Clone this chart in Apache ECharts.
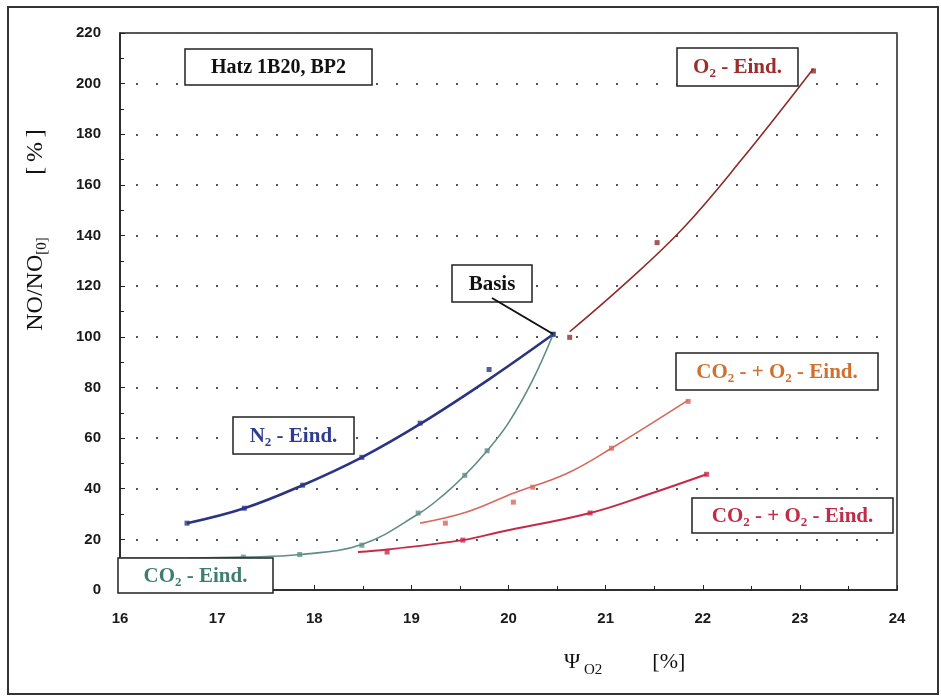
<!DOCTYPE html>
<html><head><meta charset="utf-8">
<script src="https://cdn.jsdelivr.net/npm/echarts@6/dist/echarts.min.js"></script>
<style>html,body{margin:0;padding:0;background:#fff}#c{width:941px;height:696px}</style>
</head><body><div id="c"></div>
<script>
// ---- data ----
const xMin = 16, xMax = 24, xStep = 1;
const yMin = 0, yMax = 220, yStep = 20;

const n2Points = [[16.69,26.4],[17.28,32.3],[17.88,41.4],[18.49,52.4],[19.09,65.9],[19.80,87.1],[20.46,101]];
const n2Fit = [[16.69,26.4],[17.28,32.3],[17.88,41.4],[18.49,52.4],[19.1,65.8],[19.81,83.5],[20.46,101]];

const co2Points = [[17.27,13],[17.85,14],[18.49,17.7],[19.07,30.4],[19.55,45.3],[19.78,55],[20.46,101]];
const co2Fit = [[16.0,12.5],[16.7,12.6],[17.27,13],[17.85,14],[18.49,18],[19.07,30],[19.33,37.5],[19.55,45.3],[19.78,55],[20.0,66],[20.25,83],[20.46,101]];

const o2Points = [[20.63,99.8],[21.53,137.2],[23.14,205]];
const o2Fit = [[20.63,102],[21.2,121],[21.8,143],[22.4,170],[23.14,206]];

const mixUpperPoints = [[19.35,26.4],[20.05,34.7],[20.25,40.6],[21.06,56],[21.85,74.5]];
const mixUpperFit = [[19.09,26.4],[19.57,30.8],[20.05,38.2],[20.6,46],[21.06,56],[21.85,75]];

const mixLowerPoints = [[18.75,15],[19.53,19.7],[20.84,30.4],[22.04,45.7]];
const mixLowerFit = [[18.45,15],[18.75,16],[19.53,19.7],[19.91,22.9],[20.84,30.4],[21.46,38],[22.04,45.7]];

// ---- styling ----
const C_N2 = '#2b3483', C_CO2 = '#5f8c84', C_O2 = '#8e2c2a', C_UP = '#d8675c', C_LOW = '#c42a4a';
const T_N2 = '#2f3c8e', T_CO2 = '#3f7d70', T_O2 = '#9a2e2c', T_UP = '#d0702e', T_LOW = '#c22c48';
const SERIF = '"Liberation Serif","Times New Roman",serif';
const SANS = '"Liberation Sans",Arial,sans-serif';

function rich(color, size) {
  return {
    t: {fontFamily: SERIF, fontWeight: 'bold', fontSize: size, fill: color},
    s: {fontFamily: SERIF, fontWeight: 'bold', fontSize: Math.round(size * 0.62), fill: color, padding: [12, 0, 0, 0]}
  };
}
function box(x, y, w, h, text, color, size) {
  return {
    type: 'group', x: x, y: y, z: 100,
    children: [
      {type: 'rect', z: 100, shape: {x: 0, y: 0, width: w, height: h},
       style: {fill: '#fff', stroke: '#222', lineWidth: 1.5}},
      {type: 'text', z: 101, x: w / 2, y: h / 2 + 1,
       style: {text: text, align: 'center', verticalAlign: 'middle', fill: color, rich: rich(color, size)}}
    ]
  };
}
function fitSeries(data, color, width) {
  return {type: 'line', data: data, smooth: 0.4, showSymbol: false, symbol: 'none',
          lineStyle: {color: color, width: width}, z: 3, silent: true};
}
function ptSeries(data, color) {
  return {type: 'scatter', data: data, symbol: 'rect', symbolSize: 5,
          itemStyle: {color: color}, z: 4, silent: true};
}

const chart = echarts.init(document.getElementById('c'), null, {renderer: 'canvas'});
chart.setOption({
  animation: false,
  backgroundColor: '#fff',
  grid: {left: 120, top: 33, right: 44, bottom: 106, show: true, borderColor: '#222', borderWidth: 1.5},
  xAxis: {
    type: 'value', min: xMin, max: xMax, interval: xStep,
    axisLine: {show: true, lineStyle: {color: '#222', width: 1.5}},
    axisTick: {show: true, inside: true, length: 5, lineStyle: {color: '#222'}},
    minorTick: {show: true, splitNumber: 2, length: 4, lineStyle: {color: '#222'}},
    splitLine: {show: false},
    axisLabel: {margin: 21, color: '#1a1a1a', fontFamily: SANS, fontWeight: 'bold', fontSize: 15}
  },
  yAxis: {
    type: 'value', min: yMin, max: yMax, interval: yStep,
    axisLine: {show: true, lineStyle: {color: '#222', width: 1.5}},
    axisTick: {show: true, inside: true, length: 5, lineStyle: {color: '#222'}},
    minorTick: {show: true, splitNumber: 2, length: 4, lineStyle: {color: '#222'}},
    splitLine: {show: true, lineStyle: {color: '#555', width: 2, type: [2, 18], dashOffset: -16}},
    axisLabel: {margin: 19, color: '#1a1a1a', fontFamily: SANS, fontWeight: 'bold', fontSize: 15}
  },
  series: [
    fitSeries(co2Fit, C_CO2, 1.6), ptSeries(co2Points, C_CO2),
    fitSeries(n2Fit, C_N2, 2.6), ptSeries(n2Points, C_N2),
    fitSeries(o2Fit, C_O2, 1.6), ptSeries(o2Points, C_O2),
    fitSeries(mixUpperFit, C_UP, 1.6), ptSeries(mixUpperPoints, C_UP),
    fitSeries(mixLowerFit, C_LOW, 2), ptSeries(mixLowerPoints, C_LOW)
  ],
  graphic: [
    {type: 'rect', shape: {x: 8, y: 7, width: 930, height: 687}, style: {fill: 'none', stroke: '#333', lineWidth: 2}, z: 0, silent: true},
    box(185, 49, 187, 36, '{t|Hatz 1B20, BP2}', '#111', 20),
    box(677, 48, 121, 38, '{t|O}{s|2}{t| - Eind.}', T_O2, 21),
    box(452, 265, 80, 37, '{t|Basis}', '#111', 21),
    box(676, 353, 202, 37, '{t|CO}{s|2}{t| - + O}{s|2}{t| - Eind.}', T_UP, 21),
    box(692, 498, 201, 35, '{t|CO}{s|2}{t| - + O}{s|2}{t| - Eind.}', T_LOW, 21),
    box(233, 417, 121, 37, '{t|N}{s|2}{t| - Eind.}', T_N2, 21),
    box(118, 558, 155, 35, '{t|CO}{s|2}{t| - Eind.}', T_CO2, 21),
    {type: 'line', shape: {x1: 492, y1: 298, x2: 553, y2: 334}, style: {stroke: '#111', lineWidth: 2}, z: 102},
    {type: 'text', x: 36, y: 284, rotation: Math.PI / 2, z: 100,
     style: {text: '{n|NO/NO}{s|[0]}', align: 'center', verticalAlign: 'middle',
       rich: {n: {fontFamily: SERIF, fontSize: 24, fill: '#111'},
              s: {fontFamily: SERIF, fontSize: 15, fill: '#111', padding: [12, 0, 0, 0]}}}},
    {type: 'text', x: 36, y: 152, rotation: Math.PI / 2, z: 100,
     style: {text: '[\u2009%\u2009]', align: 'center', verticalAlign: 'middle',
       fontFamily: SERIF, fontSize: 24, fill: '#111'}},
    {type: 'text', x: 564, y: 662, z: 100,
     style: {text: '{n|Ψ}{s| O2}{g|          }{n|[%]}', align: 'left', verticalAlign: 'middle',
       rich: {n: {fontFamily: SERIF, fontSize: 22, fill: '#111'},
              g: {fontFamily: SERIF, fontSize: 20},
              s: {fontFamily: SERIF, fontSize: 15, fill: '#111', padding: [16, 0, 0, 0]}}}}
  ]
});
</script></body></html>
